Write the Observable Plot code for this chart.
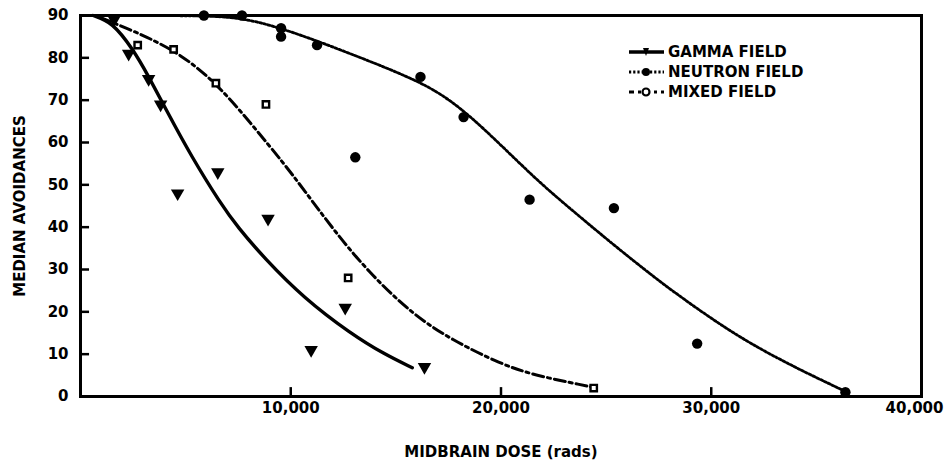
<!DOCTYPE html>
<html><head><meta charset="utf-8">
<script src="https://cdn.jsdelivr.net/npm/d3@7"></script>
<script src="https://cdn.jsdelivr.net/npm/@observablehq/plot@0.6"></script>
<style>
body{margin:0;background:#fff;}
#wrap{position:relative;width:950px;height:463px;font-family:"DejaVu Sans",sans-serif;font-weight:bold;color:#000;}
#legend{position:absolute;left:628px;top:42px;font-size:15px;line-height:20px;z-index:5;}
.row{display:flex;align-items:center;height:20px;white-space:nowrap;}
.row svg{margin-right:3px;}
</style></head><body><div id="wrap"><div id="legend"></div></div>
<script>
// Observed points
const gammaDose  = [1600, 2290, 3240, 3810, 4620, 6530, 8920, 10970, 12590, 16360];
const gammaAvoid = [89, 81, 75, 69, 48, 53, 42, 11, 21, 7];
const neutronDose  = [5870, 7680, 9540, 9540, 11250, 13070, 16170, 18220, 21360, 25370, 29330, 36380];
const neutronAvoid = [90, 90, 87, 85, 83, 56.5, 75.5, 66, 46.5, 44.5, 12.5, 1];
const mixedDose  = [2720, 4430, 6440, 8820, 12730, 24410];
const mixedAvoid = [83, 82, 74, 69, 28, 2];

// Fitted curves
const gammaCurveDose  = [600, 1500, 2500, 3200, 4150, 5240, 6670, 7480, 8720, 10630, 12870, 14450, 15780];
const gammaCurveAvoid = [90, 88.5, 82, 76, 67, 57, 45.5, 40, 32.8, 23.2, 14.8, 10, 6.8];
const neutronCurveDose  = [950, 5720, 7680, 9540, 11250, 13350, 15260, 17160, 19070, 21600, 23500, 25360, 27180, 28460, 31130, 33710, 36380];
const neutronCurveAvoid = [90, 90, 89.5, 87.0, 84.0, 80.0, 76.2, 71.8, 64.0, 51.5, 43.5, 35.8, 28.6, 23.8, 14.5, 7.5, 1.2];
const mixedCurveDose  = [950, 1910, 4430, 6440, 8110, 9680, 10630, 12060, 13680, 15740, 17640, 20020, 21600, 23980, 24410];
const mixedCurveAvoid = [89.5, 87.6, 82.2, 74.2, 64.5, 55.0, 48.8, 39.2, 29.5, 19.6, 13.4, 7.6, 5.0, 2.6, 2.1];

const xTicks = [10000, 20000, 30000, 40000];
const yTicks = [0, 10, 20, 30, 40, 50, 60, 70, 80, 90];
const seriesNames = ["GAMMA FIELD", "NEUTRON FIELD", "MIXED FIELD"];

const zip = (xs, ys) => xs.map((x, i) => ({x, y: ys[i]}));
const gamma = zip(gammaDose, gammaAvoid);
const neutron = zip(neutronDose, neutronAvoid);
const mixed = zip(mixedDose, mixedAvoid);
const gammaCurve = zip(gammaCurveDose, gammaCurveAvoid);
const neutronCurve = zip(neutronCurveDose, neutronCurveAvoid);
const mixedCurve = zip(mixedCurveDose, mixedCurveAvoid);

const fmt = d3.format(",");
const plot = Plot.plot({
  width: 950, height: 463,
  marginTop: 15, marginLeft: 80, marginRight: 29, marginBottom: 67,
  style: {fontFamily: '"DejaVu Sans", sans-serif', fontSize: "15px", fontWeight: "bold", color: "#000", background: "#fff"},
  x: {type: "linear", domain: [0, 40000]},
  y: {type: "linear", domain: [0, 90]},
  marks: [
    Plot.axisX(xTicks.slice(0, 3), {tickSize: 0, tickPadding: 6, tickFormat: fmt, label: "MIDBRAIN DOSE (rads)", labelAnchor: "center", labelOffset: 60, labelArrow: "none"}),
    Plot.axisX(xTicks.slice(3), {tickSize: 0, tickPadding: 6, tickFormat: fmt, textAnchor: "end", dx: 22, label: null}),
    Plot.axisY(yTicks, {tickSize: 0, tickPadding: 12, label: "MEDIAN AVOIDANCES", labelAnchor: "center", labelOffset: 66, labelArrow: "none"}),
    // inward tick marks
    Plot.gridX(xTicks.slice(0, 3), {stroke: "#000", strokeOpacity: 1, strokeWidth: 2.5, y1: 0, y2: 2.1}),
    Plot.gridY(yTicks.slice(1, 9), {stroke: "#000", strokeOpacity: 1, strokeWidth: 2.5, x1: 0, x2: 430}),
    Plot.line(neutronCurve, {x: "x", y: "y", curve: "basis", strokeWidth: 2.8, strokeDasharray: "2.2,2"}),
    Plot.line(mixedCurve, {x: "x", y: "y", curve: "basis", strokeWidth: 3, strokeDasharray: "11,4,3,4"}),
    Plot.line(gammaCurve, {x: "x", y: "y", curve: "basis", strokeWidth: 3.4}),
    Plot.dot(gamma, {x: "x", y: "y", symbol: "triangle", rotate: 180, r: 5, fill: "#000", stroke: "none"}),
    Plot.dot(neutron, {x: "x", y: "y", symbol: "circle", r: 5.2, fill: "#000", stroke: "none"}),
    Plot.dot(mixed, {x: "x", y: "y", symbol: "square", r: 3.6, fill: "#fff", stroke: "#000", strokeWidth: 2.4}),
    Plot.frame({strokeWidth: 3})
  ]
});
plot.style.position = "absolute"; plot.style.left = "0"; plot.style.top = "0"; plot.style.zIndex = "1";
document.getElementById("wrap").appendChild(plot);

// Legend
const legend = document.getElementById("legend");
const samples = [
  `<line x1="1" y1="6" x2="36" y2="6" stroke="#000" stroke-width="3.4"/><path d="M15,2 L21,2 L18,10 Z" fill="#000"/>`,
  `<line x1="1" y1="6" x2="36" y2="6" stroke="#000" stroke-width="2.8" stroke-dasharray="2.2,2"/><circle cx="18" cy="6" r="4" fill="#000"/>`,
  `<line x1="1" y1="6" x2="36" y2="6" stroke="#000" stroke-width="3" stroke-dasharray="5,4,3,4"/><circle cx="18" cy="6" r="3.5" fill="#fff" stroke="#000" stroke-width="2.2"/>`
];
seriesNames.forEach((name, i) => {
  const row = document.createElement("div");
  row.className = "row";
  row.innerHTML = `<svg width="37" height="12">${samples[i]}</svg><span>${name}</span>`;
  legend.appendChild(row);
});
</script>
</body></html>
